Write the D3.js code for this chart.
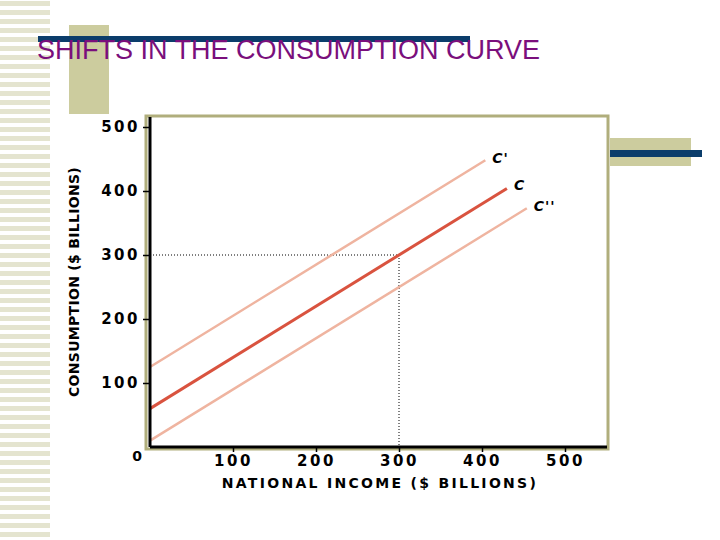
<!DOCTYPE html>
<html><head><meta charset="utf-8">
<script src="https://cdn.jsdelivr.net/npm/d3@7"></script>
<style>body{margin:0;background:#fff}svg{display:block}</style>
</head><body><svg id="c" width="720" height="540"></svg>
<script>
const xTicks=[100,200,300,400,500];
const yTicks=[100,200,300,400,500];
const seriesNames=["C'","C","C''"];
const seriesStart=[[0,125],[0,60],[0,10]];
const seriesEnd=[[404,448],[430,404],[454,373]];
const seriesColors=["#efb4a0","#d9533f","#efb4a0"];
const svg=d3.select("#c");
const stripes=d3.range(0,540,9);
svg.selectAll(".st").data(stripes).enter().append("rect").attr("x",0).attr("y",d=>d+1).attr("width",50).attr("height",5).attr("fill","#e4e4cf");
svg.append("rect").attr("x",69).attr("y",25).attr("width",40).attr("height",89).attr("fill","#cccc9e");
svg.append("rect").attr("x",38).attr("y",36).attr("width",432).attr("height",6).attr("fill","#0b3d6b");
svg.append("rect").attr("x",610).attr("y",138).attr("width",81).attr("height",28).attr("fill","#cccc9e");
svg.append("rect").attr("x",610).attr("y",150).attr("width",92).attr("height",7).attr("fill","#0b3d6b");
svg.append("text").attr("x",37).attr("y",59).attr("font-family","Liberation Sans, Arial").attr("font-size",27).attr("fill","#7a0f7c").text("SHIFTS IN THE CONSUMPTION CURVE");
svg.append("rect").attr("x",146).attr("y",116).attr("width",462).attr("height",333).attr("fill","none").attr("stroke","#b0ae7c").attr("stroke-width",3);
const x=d3.scaleLinear().domain([0,500]).range([150,565]);
const y=d3.scaleLinear().domain([0,500]).range([447,127]);
const g=svg.append("g");
g.append("line").attr("x1",x(0)).attr("x2",x(300)).attr("y1",y(300)).attr("y2",y(300)).attr("stroke","#000").attr("stroke-dasharray","1,2");
g.append("line").attr("x1",x(300)).attr("x2",x(300)).attr("y1",y(300)).attr("y2",y(0)).attr("stroke","#000").attr("stroke-dasharray","1,2");
seriesNames.forEach((n,i)=>{
  g.append("line").attr("x1",x(seriesStart[i][0])).attr("y1",y(seriesStart[i][1])).attr("x2",x(seriesEnd[i][0])).attr("y2",y(seriesEnd[i][1])).attr("stroke",seriesColors[i]).attr("stroke-width",i==1?3:2.5);
  g.append("text").attr("x",x(seriesEnd[i][0])+7).attr("y",y(seriesEnd[i][1])+(i==1?2:3)).attr("font-family","DejaVu Sans").attr("font-weight","bold").attr("font-style","italic").attr("font-size",14).attr("letter-spacing",1).text(n);
});
const font="DejaVu Sans";
const xa=svg.append("g").attr("transform","translate(0,447)").call(d3.axisBottom(x).tickValues(xTicks).tickSize(5).tickPadding(3).tickSizeOuter(0));
const ya=svg.append("g").attr("transform","translate(150,0)").call(d3.axisLeft(y).tickValues(yTicks).tickSize(7).tickPadding(3).tickSizeOuter(0));
xa.select(".domain").attr("d","M150,0H607");
ya.select(".domain").attr("d","M0,117V447");
[xa,ya].forEach(a=>{a.select(".domain").attr("stroke","#000").attr("stroke-width",3);a.selectAll("text").attr("font-family",font).attr("font-weight","bold").attr("font-size",15).attr("letter-spacing",2.5).attr("fill","#000");});
ya.selectAll("line").attr("stroke-width",1.5);xa.selectAll("line").attr("stroke-width",1.5);
svg.append("text").attr("x",137).attr("y",461).attr("text-anchor","middle").attr("font-family",font).attr("font-weight","bold").attr("font-size",14).text("0");
svg.append("text").attr("x",380).attr("y",488).attr("text-anchor","middle").attr("font-family",font).attr("font-weight","bold").attr("font-size",14).attr("letter-spacing",2.3).text("NATIONAL INCOME ($ BILLIONS)");
svg.append("text").attr("transform","translate(79,282) rotate(-90)").attr("text-anchor","middle").attr("font-family",font).attr("font-weight","bold").attr("font-size",14).attr("letter-spacing",0.3).text("CONSUMPTION ($ BILLIONS)");
</script></body></html>
